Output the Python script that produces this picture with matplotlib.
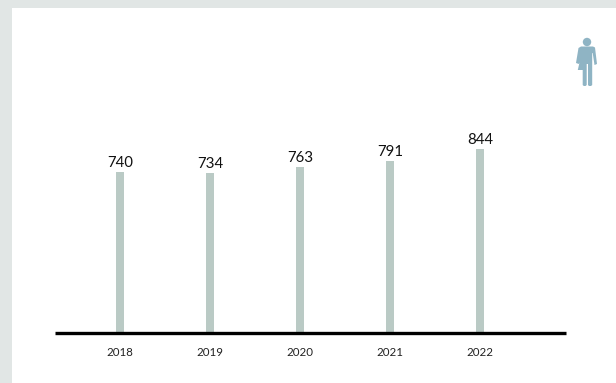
import matplotlib
matplotlib.use("Agg")
import matplotlib.pyplot as plt
from matplotlib.patches import Circle, Polygon, Rectangle

years = ["2018", "2019", "2020", "2021", "2022"]
values = [740, 734, 763, 791, 844]

W, H = 616, 383
BAR_COLOR = "#bacac5"
BG_COLOR = "#e1e6e5"
ICON_COLOR = "#8fb4c4"

plt.rcParams["font.family"] = ["Lato", "DejaVu Sans"]

fig = plt.figure(figsize=(W / 100, H / 100), dpi=100, facecolor=BG_COLOR)

# white panel behind the chart
fig.add_artist(Rectangle((12 / W, 0), 1 - 12 / W, 1 - 8 / H, transform=fig.transFigure,
                         facecolor="white", edgecolor="none", zorder=-1))

# axes box: left/right follow the baseline, bottom sits on it
ax = fig.add_axes([55 / W, 1 - 333 / H, (566 - 55) / W, (333 - 8) / H])
ax.patch.set_alpha(0)
x = list(range(len(years)))
ax.bar(x, values, width=8 / 90, color=BAR_COLOR, zorder=1)
for xi, v in zip(x, values):
    ax.annotate(str(v), (xi, v), xytext=(0.5, 1.6), textcoords="offset points",
                ha="center", va="bottom", fontsize=10.8, color="#111111")

ax.set_xlim(-65 / 90, 4 + 86 / 90)
ax.set_ylim(0, 325 / 0.2176)
ax.set_xticks(x, years, fontsize=8.3, color="#222222")
ax.tick_params(axis="x", length=0, pad=10)
ax.set_yticks([])
for side in ["top", "left", "right"]:
    ax.spines[side].set_visible(False)
ax.spines["bottom"].set_linewidth(2.4)
ax.spines["bottom"].set_color("black")
ax.spines["bottom"].set_capstyle("butt")
ax.spines["bottom"].set_zorder(3)

# person icon, drawn in figure pixels
icon = fig.add_axes([0, 0, 1, 1])
icon.set_xlim(0, W)
icon.set_ylim(H, 0)
icon.axis("off")
icon.add_patch(Circle((587, 42), 4.2, color=ICON_COLOR, lw=0))
body = [(581, 46.5), (593, 46.5), (595, 47.5), (597, 64), (594.5, 65), (592.7, 53), (592.2, 53),
        (592.2, 85), (591, 86), (589, 86), (588, 85), (588, 64), (586.7, 64), (586.7, 85),
        (585.5, 86), (583.8, 86), (582.7, 85), (582.7, 70), (577.8, 70), (579.5, 62.5),
        (578.8, 64), (576, 63), (578.5, 48)]
icon.add_patch(Polygon(body, closed=True, color=ICON_COLOR, lw=0))

fig.savefig("out.png", dpi=100, facecolor=fig.get_facecolor())
